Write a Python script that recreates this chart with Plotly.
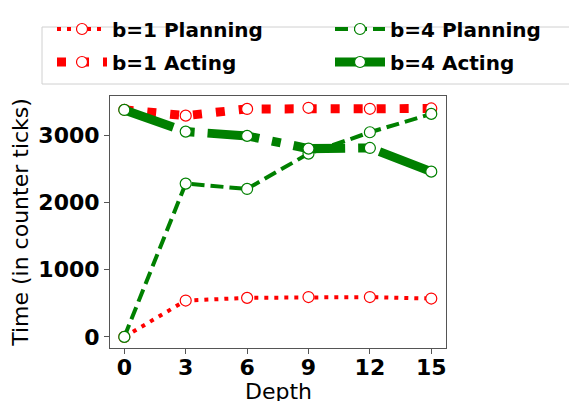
import plotly.graph_objects as go

depth = [0, 3, 6, 9, 12, 15]
b1_planning = [0, 540, 580, 592, 592, 570]
b1_acting = [3375, 3288, 3388, 3405, 3390, 3395]
b4_planning = [0, 2278, 2199, 2724, 3041, 3314]
b4_acting = [3373, 3051, 2987, 2798, 2808, 2456]

x_ticks = [0, 3, 6, 9, 12, 15]
y_ticks = [0, 1000, 2000, 3000]

RED = "#ff0000"
GREEN = "#008000"
FONT = "DejaVu Sans"

W, H = 569, 401
ML, MR, MT, MB = 110, 123, 96, 53
PW, PH = W - ML - MR, H - MT - MB


def px_x(p):
    return (p - ML) / PW


def px_y(p):
    return (H - MB - p) / PH


def mk(color):
    return dict(symbol="circle", size=11, color="white", line=dict(color=color, width=1.2))


fig = go.Figure()
fig.add_trace(go.Scatter(x=depth, y=b1_planning, name="b=1 Planning", mode="lines+markers",
                         line=dict(color=RED, width=4, dash="4px,6px"), marker=mk(RED), legend="legend"))
fig.add_trace(go.Scatter(x=depth, y=b1_acting, name="b=1 Acting", mode="lines+markers",
                         line=dict(color=RED, width=9, dash="9px,14px"), marker=mk(RED), legend="legend2"))
fig.add_trace(go.Scatter(x=depth, y=b4_planning, name="b=4 Planning", mode="lines+markers",
                         line=dict(color=GREEN, width=4, dash="13px,6px"), marker=mk(GREEN), legend="legend3"))
fig.add_trace(go.Scatter(x=depth, y=b4_acting, name="b=4 Acting", mode="lines+markers",
                         line=dict(color=GREEN, width=9, dash="52px,13px,9px,13px"), marker=mk(GREEN), legend="legend4"))

legend_common = dict(orientation="v", xanchor="left", yanchor="middle",
                     font=dict(family=FONT, size=20, color="black", weight="bold"),
                     bgcolor="rgba(0,0,0,0)", borderwidth=0, itemwidth=50)

COL1, COL2 = 52, 330
ROW1, ROW2 = 29, 62

fig.update_layout(
    width=W, height=H,
    showlegend=True,
    margin=dict(l=ML, r=MR, t=MT, b=MB, autoexpand=False),
    paper_bgcolor="white", plot_bgcolor="white",
    font=dict(family=FONT, color="black"),
    legend=dict(x=px_x(COL1), y=px_y(ROW1), **legend_common),
    legend2=dict(x=px_x(COL1), y=px_y(ROW2), **legend_common),
    legend3=dict(x=px_x(COL2), y=px_y(ROW1), **legend_common),
    legend4=dict(x=px_x(COL2), y=px_y(ROW2), **legend_common),
    shapes=[dict(type="rect", xref="paper", yref="paper",
                 x0=px_x(42), x1=px_x(575), y0=px_y(84), y1=px_y(27),
                 line=dict(color="#d0d0d0", width=1), fillcolor="rgba(0,0,0,0)", layer="below")],
    annotations=[dict(text="Depth", xref="paper", yref="paper", x=0.5, y=px_y(391),
                      xanchor="center", yanchor="middle", showarrow=False,
                      font=dict(family=FONT, size=22, color="black"))],
    xaxis=dict(range=[-0.7, 15.72], tickvals=x_ticks, ticktext=[str(v) for v in x_ticks],
               showgrid=False, zeroline=False, showline=True, mirror=True, linecolor="#555", linewidth=1,
               ticks="outside", ticklen=5, tickcolor="#555", ticklabelstandoff=-5,
               tickfont=dict(family=FONT, size=22, color="black", weight="bold")),
    yaxis=dict(range=[-165, 3580], tickvals=y_ticks, ticktext=[str(v) for v in y_ticks],
               showgrid=False, zeroline=False, showline=True, mirror=True, linecolor="#555", linewidth=1,
               ticks="outside", ticklen=5, tickcolor="#555",
               tickfont=dict(family=FONT, size=22, color="black", weight="bold"),
               title=dict(text="Time (in counter ticks)", font=dict(family=FONT, size=22, color="black"), standoff=3)),
)

fig.write_html("out.html", config={"displayModeBar": False},
               post_script="document.body.style.margin='0';document.body.style.overflow='hidden';")
